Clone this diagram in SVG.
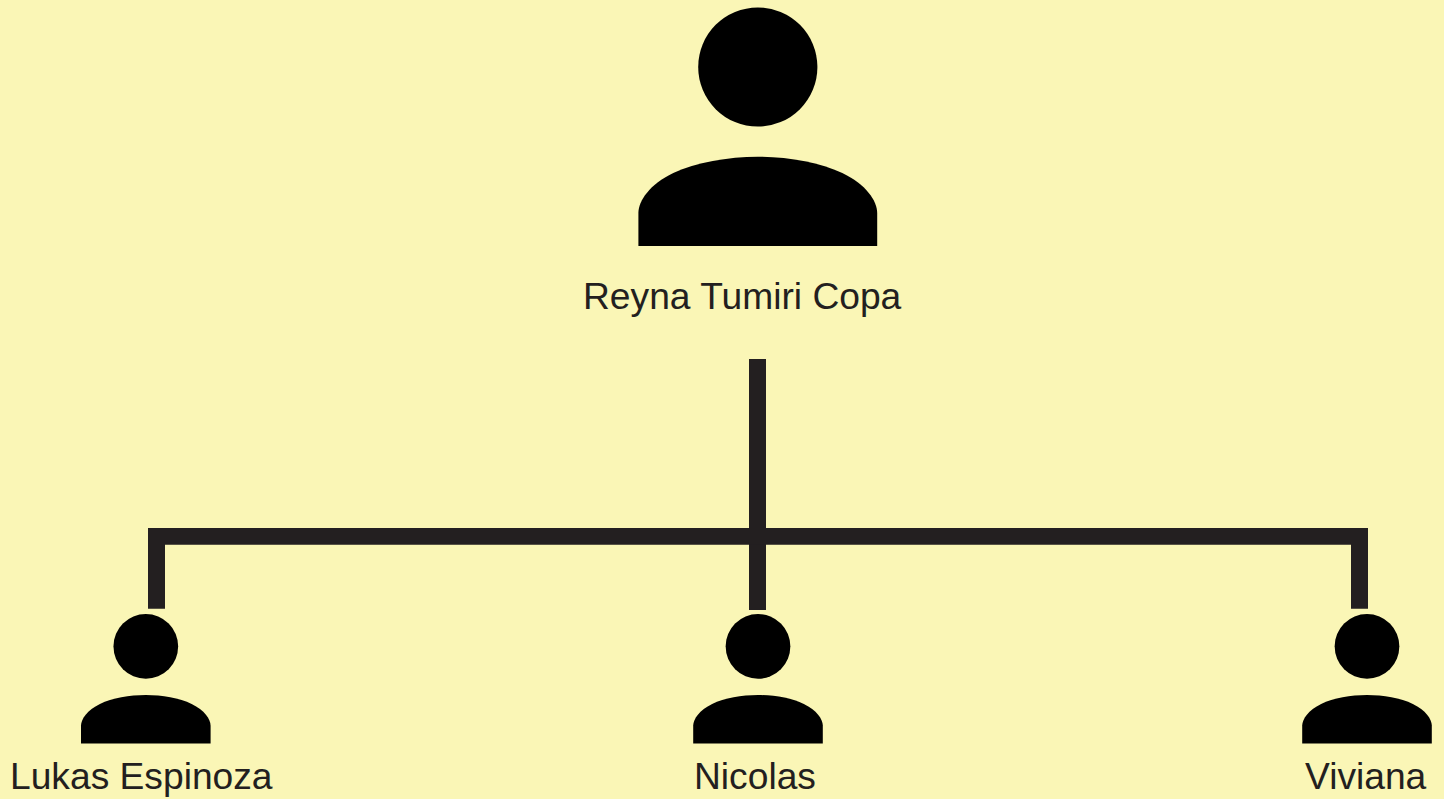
<svg xmlns="http://www.w3.org/2000/svg" width="1444" height="799" viewBox="0 0 1444 799">
<style>
.label{font-family:"Liberation Sans",Arial,sans-serif;font-size:37.2px;fill:#231f20}
.conn{fill:#231f20}
</style>
<defs>
<g id="person">
<circle cx="0" cy="67" r="59.6"/>
<path d="M-119.4,246 V213 C-119.4,201 -108,184 -84.5,173 C-62,162.5 -30,156.7 0,156.7 C30,156.7 62,162.5 84.5,173 C108,184 119.4,201 119.4,213 V246 Z"/>
</g>
</defs>
<rect width="1444" height="799" fill="#faf6b6"/>
<g id="connectors">
<rect class="conn" x="749" y="359" width="17" height="251"/>
<path class="conn" d="M148,608.7 V528 H1368 V608.7 H1351 V544.7 H165 V608.7 Z"/>
</g>
<g id="node-reyna">
<use href="#person" transform="translate(757.8 0)"/>
<text class="label" x="583" y="309">Reyna Tumiri Copa</text>
</g>
<g id="node-lukas">
<use href="#person" transform="translate(145.8 610) scale(0.5427)"/>
<text class="label" x="10" y="789">Lukas Espinoza</text>
</g>
<g id="node-nicolas">
<use href="#person" transform="translate(758 610) scale(0.5427)"/>
<text class="label" x="694" y="789">Nicolas</text>
</g>
<g id="node-viviana">
<use href="#person" transform="translate(1367 610) scale(0.5427)"/>
<text class="label" x="1305" y="789">Viviana</text>
</g>
</svg>
